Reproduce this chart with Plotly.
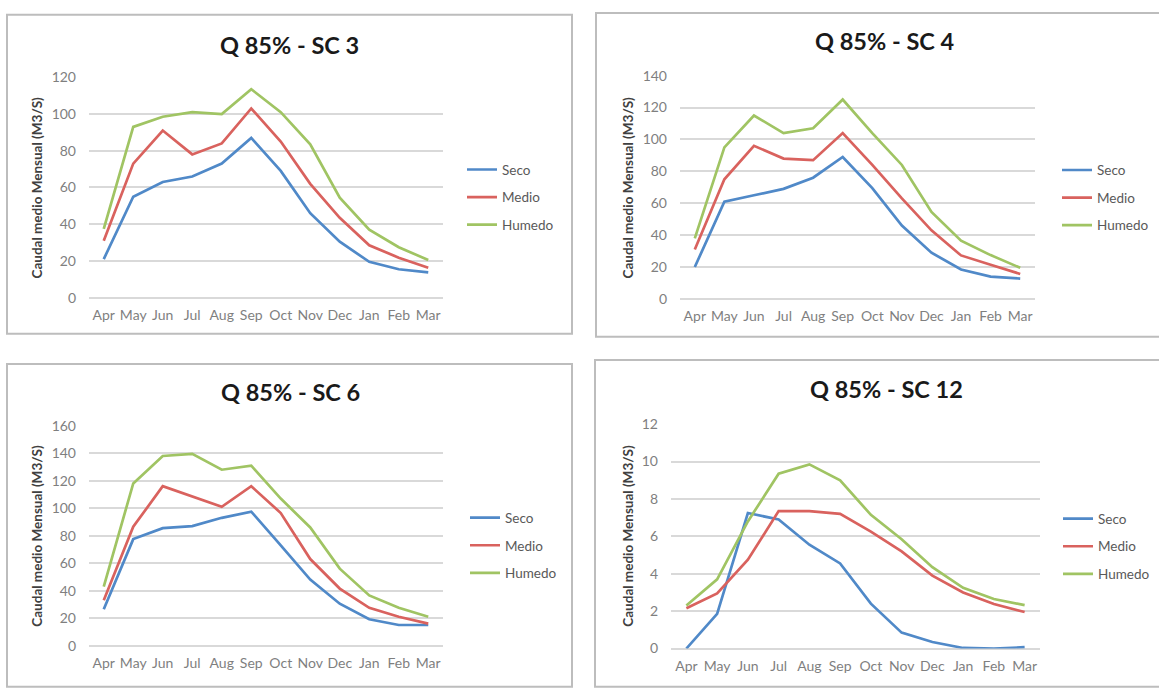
import plotly.graph_objects as go

W, H = 1159, 689

months = ["Apr", "May", "Jun", "Jul", "Aug", "Sep", "Oct", "Nov", "Dec", "Jan", "Feb", "Mar"]
series_names = ["Seco", "Medio", "Humedo"]
titles = ["Q 85% - SC 3", "Q 85% - SC 4", "Q 85% - SC 6", "Q 85% - SC 12"]

# Monthly mean flow (m3/s) per scenario
sc3_seco = [21, 55, 63, 66, 73, 87, 69, 46, 30.5, 19.5, 15.5, 13.8]
sc3_medio = [31, 73, 91, 78, 84, 103, 85, 62, 43.5, 28.5, 21.8, 16.3]
sc3_humedo = [37.5, 93, 98.5, 101, 100, 113.5, 101, 83.5, 54.5, 37, 27.5, 20.5]

sc4_seco = [20, 61, 65, 69, 76, 89, 69.5, 46, 29, 18.5, 14, 12.8]
sc4_medio = [31, 75, 96, 88, 87, 104, 84, 63, 43, 27.3, 21.5, 15.7]
sc4_humedo = [38, 95, 115, 104, 107, 125, 104, 84, 54.5, 36.5, 27.5, 19.5]

sc6_seco = [26.5, 77.5, 85.5, 87, 93, 97.5, 73, 48, 30.5, 19.2, 15, 15]
sc6_medio = [33, 86.5, 116, 108.5, 101, 116, 96.5, 63, 41.5, 27.5, 21, 16]
sc6_humedo = [43, 118, 138, 139.5, 128, 131, 107, 86, 56, 36.5, 27.5, 21]

sc12_seco = [0, 1.85, 7.25, 6.9, 5.55, 4.55, 2.4, 0.85, 0.35, 0.03, 0.0, 0.07]
sc12_medio = [2.15, 2.95, 4.75, 7.35, 7.35, 7.2, 6.25, 5.2, 3.9, 3.0, 2.38, 1.95]
sc12_humedo = [2.3, 3.7, 6.8, 9.35, 9.85, 9.0, 7.15, 5.85, 4.35, 3.25, 2.65, 2.32]

panel_data = [
    [sc3_seco, sc3_medio, sc3_humedo],
    [sc4_seco, sc4_medio, sc4_humedo],
    [sc6_seco, sc6_medio, sc6_humedo],
    [sc12_seco, sc12_medio, sc12_humedo],
]
y_max = [120, 140, 160, 12]
y_step = [20, 20, 20, 2]

colors = ["#5089C8", "#D9625E", "#A0C463"]
y_title = "Caudal medio Mensual (M3/S)"

FONT = "Lato"
GRID = "#D9D9D9"
TICK_COLOR = "#7F7F7F"


def px_x(v):
    return v / W


def px_y(v):
    return 1 - v / H


# Pixel geometry of each panel: plot area, frame, title, legend, axis title
panels = [
    dict(plot=(89, 443, 70, 296), frame=(7, 572, 6, 333), title=(289, 37),
         legend=(462, 193), ytitle=(37, 183)),
    dict(plot=(680, 1035, 68.3, 297.3), frame=(596, 1162, 4, 336), title=(885, 32.5),
         legend=(1057, 193.5), ytitle=(628, 183)),
    dict(plot=(89, 443, 427.3, 652.7), frame=(7, 572, 364, 695), title=(290, 392.5),
         legend=(465, 550), ytitle=(37, 540)),
    dict(plot=(671, 1040, 425.7, 655.7), frame=(595, 1162, 360, 695), title=(886, 390),
         legend=(1058, 551), ytitle=(628, 540)),
]

fig = go.Figure()
layout = dict(
    width=W, height=H,
    margin=dict(l=0, r=0, t=0, b=0),
    paper_bgcolor="white", plot_bgcolor="white",
    font=dict(family=FONT, color=TICK_COLOR, size=13),
    shapes=[], annotations=[],
)

for i, p in enumerate(panels):
    n = i + 1
    xa = "x" if n == 1 else f"x{n}"
    ya = "y" if n == 1 else f"y{n}"
    lg = "legend" if n == 1 else f"legend{n}"
    x0, x1, ytop, ybot = p["plot"]

    for s, name in enumerate(series_names):
        fig.add_trace(go.Scatter(
            x=months, y=panel_data[i][s], name=name, mode="lines",
            line=dict(color=colors[s], width=2.7),
            xaxis=xa, yaxis=ya, legend=lg, legendgroup=f"{n}-{name}",
            showlegend=True,
        ))

    layout["xaxis" if n == 1 else f"xaxis{n}"] = dict(
        domain=[px_x(x0), px_x(x1)], anchor=ya,
        type="category", range=[-0.5, 11.5],
        showgrid=False, showline=False, zeroline=False,
        ticks="", ticklabelstandoff=7,
        tickfont=dict(family=FONT, size=14, color=TICK_COLOR),
        fixedrange=True,
    )
    layout["yaxis" if n == 1 else f"yaxis{n}"] = dict(
        domain=[px_y(ybot), px_y(ytop)], anchor=xa,
        range=[0, y_max[i]], dtick=y_step[i], tick0=0,
        showgrid=True, gridcolor=GRID, gridwidth=1.6,
        zeroline=True, zerolinecolor=GRID, zerolinewidth=1.6,
        showline=False, ticks="", ticklabelstandoff=12,
        tickfont=dict(family=FONT, size=14, color=TICK_COLOR),
        fixedrange=True,
    )
    layout[lg] = dict(
        x=px_x(p["legend"][0]), y=px_y(p["legend"][1]),
        xanchor="left", yanchor="middle",
        bgcolor="rgba(0,0,0,0)", borderwidth=0,
        font=dict(family=FONT, size=13.5, color="#595959"),
        tracegroupgap=7, itemwidth=30,
    )

    fx0, fx1, fy0, fy1 = p["frame"]
    layout["shapes"].append(dict(
        type="rect", xref="paper", yref="paper",
        x0=px_x(fx0), x1=px_x(fx1), y0=px_y(fy1), y1=px_y(fy0),
        line=dict(color="#BDBDBD", width=2), fillcolor="rgba(0,0,0,0)", layer="below",
    ))
    layout["annotations"].append(dict(
        text=f"<b>{titles[i]}</b>", xref="paper", yref="paper",
        x=px_x(p["title"][0]), y=px_y(p["title"][1]),
        xanchor="center", yanchor="middle", showarrow=False,
        font=dict(family=FONT, size=23.5, color="#1A1A1A"),
    ))
    layout["annotations"].append(dict(
        text=f"<b>{y_title}</b>", xref="paper", yref="paper",
        x=px_x(p["ytitle"][0]), y=px_y(p["ytitle"][1]),
        xanchor="center", yanchor="middle", showarrow=False, textangle=-90,
        font=dict(family=FONT, size=13.5, color="#404040"),
    ))

fig.update_layout(**layout)
fig.write_html("out.html")
